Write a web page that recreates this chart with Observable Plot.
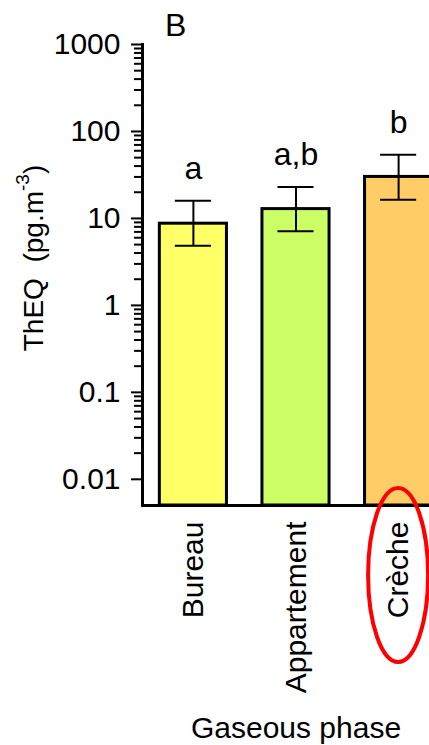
<!DOCTYPE html>
<html><head><meta charset="utf-8">
<script src="https://cdn.jsdelivr.net/npm/d3@7"></script>
<script src="https://cdn.jsdelivr.net/npm/@observablehq/plot@0.6"></script>
<style>
html,body{margin:0;padding:0;overflow:hidden;background:#fff;width:429px;height:745px}
#chart{position:relative;width:429px;height:745px;overflow:hidden}
</style>
</head><body><div id="chart"></div>
<script>
// ---- data ----
const categories = ["Bureau", "Appartement", "Crèche"];
const values = [8.7, 12.8, 30];
const errLow = [4.85, 7.1, 16.4];
const errHigh = [16, 23, 54];
const letters = ["a", "a,b", "b"];
const colors = ["#FFFF66", "#CCFF66", "#FFCC66"];
const majorTicks = [0.01, 0.1, 1, 10, 100, 1000];
const majorLabels = ["0.01", "0.1", "1", "10", "100", "1000"];
const minorMultipliers = [2, 3, 4, 5, 6, 7, 8, 9];
const xTitle = "Gaseous phase";
const panelLabel = "B";
const yLabelMain = "ThEQ\u00a0\u00a0(pg.m";
const yLabelSup = "-3";
const yLabelEnd = ")";
const highlighted = "Crèche";
const yMin = 0.005, yMax = 1000;

const rows = categories.map((c, i) => ({cat: c, value: values[i], lo: errLow[i], hi: errHigh[i], letter: letters[i], color: colors[i]}));
const minorTicks = [];
for (const k of majorTicks.slice(0, -1)) for (const m of minorMultipliers) minorTicks.push(+(k * m).toPrecision(3));

const font = "'Liberation Sans', Arial, sans-serif";

const plot = Plot.plot({
  width: 449, height: 745,
  marginLeft: 142, marginRight: 0, marginTop: 44, marginBottom: 240,
  style: {fontFamily: font, maxWidth: "none", background: "white", color: "black"},
  x: {domain: categories, type: "band", paddingInner: 0.346, paddingOuter: 0.169, round: false, axis: null},
  y: {type: "log", domain: [yMin, yMax], axis: null, label: null},
  color: {type: "identity"},
  marks: [
    Plot.barY(rows, {x: "cat", y1: () => yMin, y2: "value", fill: "color", stroke: "black", strokeWidth: 3}),
    Plot.ruleX(rows, {x: "cat", y1: "lo", y2: "hi", stroke: "black", strokeWidth: 2}),
    Plot.tickY(rows, {x: "cat", y: "lo", stroke: "black", strokeWidth: 2, insetLeft: 15.5, insetRight: 15.5}),
    Plot.tickY(rows, {x: "cat", y: "hi", stroke: "black", strokeWidth: 2, insetLeft: 15.5, insetRight: 15.5}),
    Plot.text(rows, {x: "cat", y: "hi", text: "letter", dy: -32, fontSize: 32, lineAnchor: "middle", fill: "black"}),
    Plot.text(categories, {x: d => d, frameAnchor: "bottom", rotate: -90, textAnchor: "end", lineAnchor: "middle", dy: 16, fontSize: 30, fill: "black"}),
    Plot.text([xTitle], {frameAnchor: "bottom", dy: 223, fontSize: 30, lineAnchor: "middle", fill: "black"}),
    Plot.axisY(minorTicks, {anchor: "left", tickSize: 8, strokeWidth: 2, tickFormat: () => "", label: null}),
    Plot.axisY(majorTicks, {anchor: "left", tickSize: 11, tickPadding: 11, strokeWidth: 2, fontSize: 30, label: null,
      tickFormat: d => majorLabels[majorTicks.indexOf(d)]}),
    Plot.ruleY([yMin], {strokeWidth: 3, stroke: "black"}),
    Plot.frame({anchor: "left", strokeWidth: 3, stroke: "black"})
  ]
});

document.getElementById("chart").append(plot);

const svg = d3.select(plot);
const xs = plot.scale("x");
const ys = plot.scale("y");
const bottomY = ys.apply(yMin);
const cx = xs.apply(highlighted) + (xs.bandwidth || 0) / 2;

// red highlight ellipse around the Crèche label
svg.append("ellipse")
  .attr("cx", cx).attr("cy", bottomY + 70)
  .attr("rx", 30).attr("ry", 87)
  .attr("fill", "none").attr("stroke", "#FF0000").attr("stroke-width", 4);

// y-axis title with superscript
const yl = svg.append("text")
  .attr("transform", `translate(43,258) rotate(-90)`)
  .attr("text-anchor", "middle")
  .attr("font-family", font).attr("font-size", 28).attr("fill", "black");
yl.append("tspan").text(yLabelMain);
yl.append("tspan").attr("font-size", 19).attr("dy", "-0.75em").text(yLabelSup);
yl.append("tspan").attr("dy", "0.5em").text(yLabelEnd);

// panel letter
svg.append("text").attr("x", 165).attr("y", 36).attr("text-anchor", "start")
  .attr("font-family", font).attr("font-size", 32).attr("fill", "black").text(panelLabel);
</script>
</body></html>
